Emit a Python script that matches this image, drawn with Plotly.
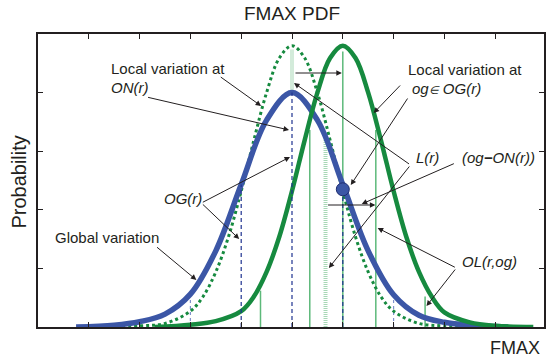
import plotly.graph_objects as go

# ---- data ----
# Global variation (blue), centred at ON(r)
blue_x = [0.75, 1.5, 2.0, 2.5, 3.0, 3.5, 4.0, 4.5, 5.0, 5.5, 6.0, 6.5, 7.0, 7.5, 8.0, 8.5, 9.25]
blue_y = [0.0, 0.03, 0.09, 0.22, 0.56, 1.3, 2.43, 3.53, 4.0, 3.53, 2.43, 1.3, 0.55, 0.2, 0.08, 0.03, 0.0]

# Local variation at ON(r) (green dotted)
loc_on_x = [1.3, 2.0, 2.5, 3.0, 3.25, 3.5, 3.75, 4.0, 4.25, 4.5, 4.75, 5.0, 5.25, 5.5, 5.75, 6.0, 6.25, 6.5, 6.75, 7.0, 7.5, 8.0, 8.7]
loc_on_y = [0.0, 0.02, 0.06, 0.27, 0.52, 0.94, 1.54, 2.32, 3.19, 4.0, 4.59, 4.8, 4.59, 4.0, 3.19, 2.32, 1.54, 0.94, 0.52, 0.27, 0.06, 0.02, 0.0]

# Local variation at og in OG(r) (green solid)
loc_og_x = [2.3, 3.0, 3.5, 4.0, 4.25, 4.5, 4.75, 5.0, 5.25, 5.5, 5.75, 6.0, 6.25, 6.5, 6.75, 7.0, 7.25, 7.5, 7.75, 8.0, 8.5, 9.0, 9.75]
loc_og_y = [0.0, 0.04, 0.1, 0.27, 0.52, 0.94, 1.54, 2.32, 3.19, 4.0, 4.59, 4.8, 4.59, 4.0, 3.19, 2.32, 1.54, 0.94, 0.52, 0.25, 0.08, 0.02, 0.0]

# vertical markers
navy_x = [4.0, 5.0, 6.0]
navy_top = [2.43, 4.0, 2.35]
lightblue_x = [3.0, 7.0]
lightblue_top = [0.52, 0.52]
green_x = [4.38, 5.35, 6.0, 6.65, 7.62]
green_top = [0.62, 3.36, 4.7, 3.36, 0.52]
hatch_x = [5.0, 5.66]
hatch_bot = [4.0, 0.0]
hatch_top = [4.73, 3.19]

# og point
og_x = [6.0]
og_y = [2.35]

# ---- colours ----
BLUE = "#3B56A6"
GREEN = "#168A3F"
LGREEN = "#5DB97A"
HATCH = "#A8D8B6"
NAVY = "#1F3290"
LBLUE = "#8090CC"
INK = "#231F20"
FONT = "Liberation Sans, Arial, sans-serif"

fig = go.Figure()

def vlines(xs, bots, tops, color, width, dash):
    vx, vy = [], []
    for x, b, t in zip(xs, bots, tops):
        vx += [x, x, None]
        vy += [b, t, None]
    fig.add_trace(go.Scatter(x=vx, y=vy, mode="lines",
                             line=dict(color=color, width=width, dash=dash),
                             hoverinfo="skip", showlegend=False))

vlines(green_x, [0] * len(green_x), green_top, LGREEN, 1.5, "solid")
vlines(hatch_x, hatch_bot, hatch_top, HATCH, 4, "1px,1px")
vlines(lightblue_x, [0, 0], lightblue_top, LBLUE, 1.2, "3px,3px")

fig.add_trace(go.Scatter(x=loc_on_x, y=loc_on_y, mode="lines", line_shape="spline",
                         line=dict(color=GREEN, width=3, dash="dot"), showlegend=False))
fig.add_trace(go.Scatter(x=blue_x, y=blue_y, mode="lines", line_shape="spline",
                         line=dict(color=BLUE, width=5.5), showlegend=False))
fig.add_trace(go.Scatter(x=loc_og_x, y=loc_og_y, mode="lines", line_shape="spline",
                         line=dict(color=GREEN, width=4.5), showlegend=False))

vlines(navy_x, [0, 0, 0], navy_top, NAVY, 1.2, "4px,3px")

fig.add_trace(go.Scatter(x=og_x, y=og_y, mode="markers",
                         marker=dict(size=13, color=BLUE, line=dict(color="#1E2C70", width=1)),
                         showlegend=False))

# ---- pixel helpers for annotation placement ----
def X(px):
    return (px - 38.0) / 51.0

def Y(py):
    return (327.0 - py) / 58.6

def PX(px):
    return (px - 38.0) / 508.0

def PY(py):
    return (327.0 - py) / 293.0

arrows = [
    ((220, 76), (262, 106)),
    ((147, 97), (290, 130)),
    ((403, 84), (375, 113)),
    ((410, 97), (352, 185)),
    ((412, 165), (295, 83)),
    ((412, 165), (330, 268)),
    ((457, 163), (363, 204)),
    ((202, 203), (291, 157)),
    ((202, 203), (240, 239)),
    ((156, 246), (197, 280)),
    ((458, 268), (379, 228)),
    ((458, 268), (428, 306)),
    ((295, 73), (343, 73)),
    ((327.7, 205), (376.7, 205)),
]
ann = []
for (tx, ty), (hx, hy) in arrows:
    ann.append(dict(x=X(hx), y=Y(hy), ax=X(tx), ay=Y(ty), xref="x", yref="y",
                    axref="x", ayref="y", text="", showarrow=True,
                    arrowhead=2, arrowsize=1.1, arrowwidth=1, arrowcolor=INK, standoff=0))

labels = [
    ("Local variation at", 109, 68.5, False),
    ("ON(r)", 109, 87.5, True),
    ("Local variation at", 407, 69, False),
    ("og<span style='font-size:11px'>\u2208</span> OG(r)", 411, 88, True),
    ("L(r)", 415, 157.5, True),
    ("(og<b>\u2212</b>ON(r))", 462, 157, True),
    ("OG(r)", 162, 198, True),
    ("Global variation", 53, 237.7, False),
    ("OL(r,og)", 462, 261.5, True),
]
for txt, px, py, it in labels:
    ann.append(dict(x=PX(px), y=PY(py), xref="paper", yref="paper",
                    text=f"<i>{txt}</i>" if it else txt,
                    showarrow=False, xanchor="left", yanchor="middle",
                    font=dict(family=FONT, size=15, color=INK)))

ann.append(dict(x=PX(293), y=PY(13.7), xref="paper", yref="paper", text="FMAX PDF", showarrow=False,
                xanchor="center", yanchor="middle", font=dict(family=FONT, size=19, color=INK)))
ann.append(dict(x=PX(18), y=PY(182.5), xref="paper", yref="paper", text="Probability", showarrow=False,
                textangle=-90, xanchor="center", yanchor="middle",
                font=dict(family=FONT, size=20, color=INK)))
ann.append(dict(x=PX(544), y=PY(347.5), xref="paper", yref="paper", text="FMAX", showarrow=False,
                xanchor="right", yanchor="middle", font=dict(family=FONT, size=18, color=INK)))

fig.update_layout(
    width=546, height=362,
    margin=dict(l=38, r=0, t=34, b=35),
    paper_bgcolor="white", plot_bgcolor="white",
    annotations=ann,
    showlegend=False,
)
fig.update_xaxes(range=[0, 508 / 51.0], showgrid=False, zeroline=False,
                 showline=True, linewidth=2, linecolor=INK, mirror="ticks",
                 ticks="inside", ticklen=5, tickwidth=1, tickcolor=INK,
                 tickvals=[1, 2, 3, 4, 5, 6, 7, 8, 9], showticklabels=False)
fig.update_yaxes(range=[0, 5], showgrid=False, zeroline=False,
                 showline=True, linewidth=2, linecolor=INK, mirror="ticks",
                 ticks="inside", ticklen=5, tickwidth=1, tickcolor=INK,
                 tickvals=[1, 2, 3, 4], showticklabels=False)

fig.write_html("out.html", config={"displayModeBar": False},
               post_script="document.body.style.margin='0';document.body.style.overflow='hidden';")
